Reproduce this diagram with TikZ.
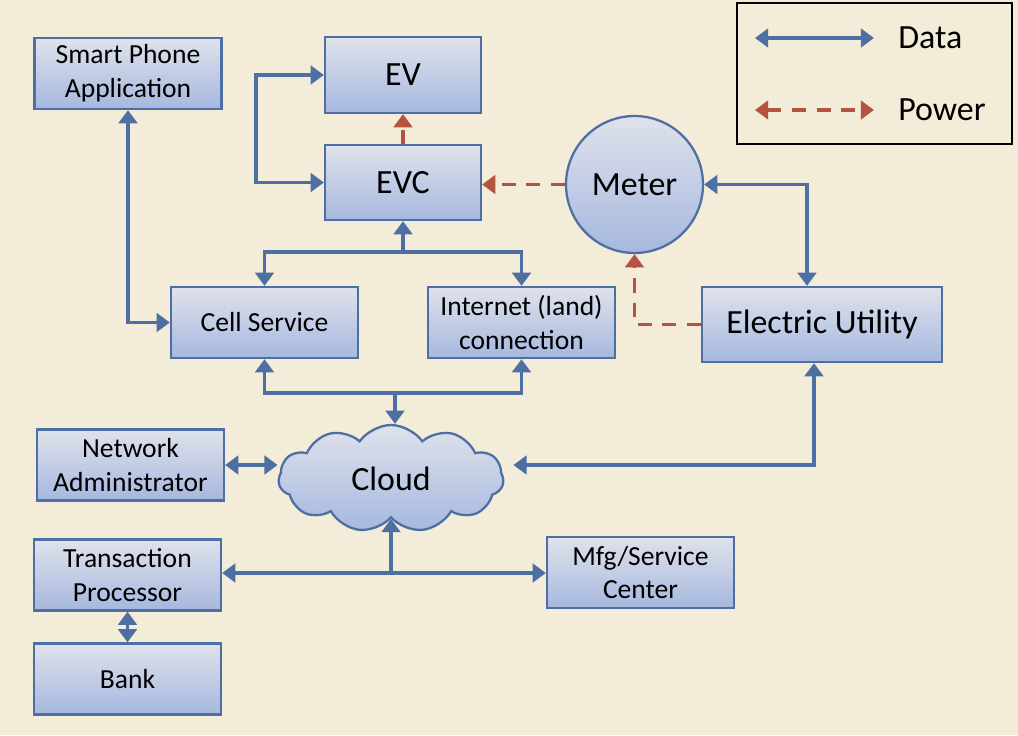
\documentclass[tikz,border=0pt]{standalone}
\usepackage{fontspec}
\setmainfont{Carlito}
\usepackage{tikz}
\usetikzlibrary{arrows.meta,shapes.symbols}
\definecolor{evbg}{HTML}{F3ECD8}
\definecolor{evline}{HTML}{4E6FA3}
\definecolor{evtop}{HTML}{DFE2EB}
\definecolor{evbot}{HTML}{A6B8DF}
\definecolor{evpow}{HTML}{B4533F}

\begin{document}
\begin{tikzpicture}[x=0.02cm, y=-0.02cm, >={Triangle[width=10.5pt,length=7.5pt]},
		unit/.style={draw=evline, line width=1.3pt, top color=evtop, bottom color=evbot, align=center, inner sep=0pt, minimum width=3.74cm, minimum height=1.42cm, font=\fontsize{15.7}{19.3}\selectfont},
		big/.style={font=\fontsize{19.3}{23}\selectfont},
		data/.style={draw=evline, line width=2.1pt},
		power/.style={draw=evpow, line width=2.1pt, dash pattern=on 8pt off 6pt}]
		\fill[evbg] (0,0) rectangle (1018,735);
		% boxes
		\node[unit] (smart) at (128,73.5) {Smart Phone\\Application};
		\node[unit, big, minimum width=3.12cm, minimum height=1.52cm] (ev) at (403,75) {EV};
		\node[unit, big, minimum width=3.12cm, minimum height=1.5cm] (evc) at (403,182.5) {EVC};
		\node[unit, big, circle, minimum size=2.74cm] (meter) at (634.5,184.5) {Meter};
		\node[unit] (cell) at (264.5,322.5) {Cell Service};
		\node[unit] (inet) at (521.5,322.5) {Internet (land)\\connection};
		\node[unit, big, minimum width=4.8cm, minimum height=1.5cm] (util) at (822,324.5) {Electric Utility};
		\node[unit] (admin) at (130.5,465) {Network\\Administrator};
		\node[unit, big, cloud, cloud puffs=11, cloud puff arc=110, aspect=2.1, minimum width=4.5cm, minimum height=2.14cm] (cloud) at (391,478.5) {Cloud};
		\node[unit] (tp) at (127.5,575) {Transaction\\Processor};
		\node[unit] (mfg) at (640.5,572.5) {Mfg/Service\\Center};
		\node[unit] (bank) at (127.5,679) {Bank};
		% legend
		\node[draw=black, line width=1.3pt, minimum width=5.5cm, minimum height=2.82cm] (key) at (874.5,73.5) {};
		\coordinate (keyA) at (755,38);
		\coordinate (keyB) at (874,38);
		\coordinate (keyC) at (755,110);
		\coordinate (keyD) at (874,110);
		\draw[data,<->] (keyA) -- (keyB);
		\draw[power,<->] (keyC) -- (keyD);
		\node[big, anchor=west, inner sep=0pt] (keydata) at (898,38) {Data};
		\node[big, anchor=west, inner sep=0pt] (keypower) at (898,110) {Power};
		% connectors
		\coordinate (upj) at (evc.south |- 0,252);
		\coordinate (dnj) at (395,393);
		\coordinate (lowj) at (cloud.south |- 0,573);
		\draw[data,<->] (ev.west) -- ++(-68,0) |- (evc.west);
		\draw[power,->] (evc.north) -- (ev.south);
		\draw[power,->] (meter.west) -- (evc.east |- meter.west);
		\draw[data,->] (upj) -- (evc.south);
		\draw[data,<->] (cell.north) |- (upj) -| (inet.north);
		\draw[data,<->] (smart.south) |- (cell.west);
		\draw[data,<->] (meter.east) -| ([xshift=-0.3cm]util.north);
		\draw[power,->] (util.west) -| (meter.south);
		\draw[data,<->] (cell.south) |- (dnj) -| (inet.south);
		\draw[data,->] (dnj) -- (dnj |- cloud.north);
		\draw[data,<->] (admin.east) -- (admin.east -| cloud.west);
		\draw[data,<->] ([xshift=-0.16cm]util.south) |- ([xshift=0.18cm]cloud.east |- admin.east);
		\draw[data,->] (lowj) -- (cloud.south);
		\draw[data,<->] (tp.east |- lowj) -- (mfg.west |- lowj);
		\draw[data,<->] (tp.south) -- (bank.north);
	\end{tikzpicture}
\end{document}
